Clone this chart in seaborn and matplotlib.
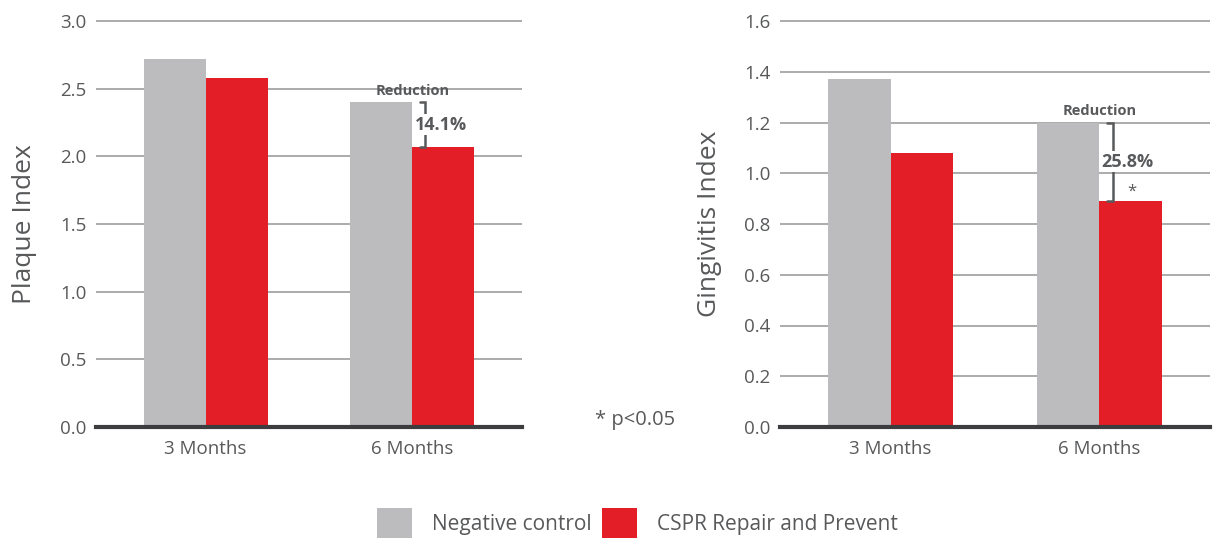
import matplotlib
matplotlib.use("Agg")
import matplotlib.pyplot as plt
from matplotlib.patches import Patch
import seaborn as sns
import pandas as pd

periods = ["3 Months", "6 Months"]
groups = ["Negative control", "CSPR Repair and Prevent"]
plaque_neg = [2.72, 2.40]
plaque_cspr = [2.58, 2.07]
ging_neg = [1.37, 1.20]
ging_cspr = [1.08, 0.89]
reductions = ["14.1%", "25.8%"]
plaque_ticks = [0.0, 0.5, 1.0, 1.5, 2.0, 2.5, 3.0]
ging_ticks = [0.0, 0.2, 0.4, 0.6, 0.8, 1.0, 1.2, 1.4, 1.6]

GRAY = "#bcbcbe"
RED = "#e31e26"
TXT = "#58595b"

sns.set_theme(style="white")
plt.rcParams["font.family"] = ["Open Sans", "DejaVu Sans"]

W, H = 1214, 541
fig = plt.figure(figsize=(W / 100, H / 100), dpi=100)


def make_df(neg, cspr):
    rows = []
    for p, v in zip(periods, neg):
        rows.append({"period": p, "group": groups[0], "value": v})
    for p, v in zip(periods, cspr):
        rows.append({"period": p, "group": groups[1], "value": v})
    return pd.DataFrame(rows)


def draw(rect_px, neg, cspr, ticks, label, red_text, star, label_x):
    x0, x1, ybase = rect_px
    top = ticks[-1]
    ymax = top * 1.01
    h_px = 406 * ymax / top
    ax = fig.add_axes([x0 / W, 1 - ybase / H, (x1 - x0) / W, h_px / H])
    df = make_df(neg, cspr)
    sns.barplot(data=df, x="period", y="value", hue="group", hue_order=groups,
                palette=[GRAY, RED], width=0.6, saturation=1, ax=ax,
                legend=False, zorder=3, linewidth=0, edgecolor="none")
    ax.set_ylim(0, ymax)
    ax.set_xlim(-0.53, 1.53)
    ax.set_yticks(ticks)
    ax.set_yticklabels([f"{t:.1f}" for t in ticks])
    ax.yaxis.grid(True, color="#9d9d9d", lw=1.2, zorder=0)
    ax.set_axisbelow(True)
    for s in ["top", "right", "left"]:
        ax.spines[s].set_visible(False)
    ax.spines["bottom"].set_color("#3d3d3f")
    ax.spines["bottom"].set_linewidth(3)
    ax.spines["bottom"].set_zorder(5)
    ax.tick_params(axis="both", length=0, labelsize=13.5, labelcolor=TXT)
    ax.tick_params(axis="y", pad=7)
    ax.tick_params(axis="x", pad=9)
    ax.set_xlabel("")
    ax.set_ylabel(label, fontsize=19, color=TXT)
    ax.yaxis.set_label_coords(label_x, 0.495)

    g, r = neg[1], cspr[1]
    ax.annotate("Reduction", xy=(1.0, g), xytext=(0, 8), textcoords="offset points",
                ha="center", va="center", fontsize=10.5, fontweight="bold",
                color=TXT, zorder=6)
    bx = 1.063
    tk = 0.025
    ax.plot([bx - tk, bx, bx, bx - tk], [g, g, r, r], color=TXT, lw=1.8,
            zorder=6, solid_joinstyle="miter")
    ax.annotate(red_text, xy=(1.0, (g + r) / 2), xytext=(1.5, 0),
                textcoords="offset points", ha="left", va="center",
                fontsize=13, fontweight="bold", color=TXT, zorder=7,
                bbox=dict(facecolor="white", edgecolor="none", pad=1.0))
    if star:
        ax.annotate("*", xy=(1.155, r), xytext=(0, 7), textcoords="offset points",
                    ha="center", va="center", fontsize=12, color=TXT, zorder=7)
    return ax


ax1 = draw((96, 522, 427), plaque_neg, plaque_cspr, plaque_ticks,
           "Plaque Index", reductions[0], False, -0.139)
ax2 = draw((780, 1210, 427), ging_neg, ging_cspr, ging_ticks,
           "Gingivitis Index", reductions[1], True, -0.135)

fig.text(595 / W, 1 - 420 / H, "* p<0.05", fontsize=14.5, color=TXT,
         ha="left", va="center")

handles = [Patch(facecolor=GRAY, edgecolor="none"),
           Patch(facecolor=RED, edgecolor="none")]
fig.legend(handles, groups, loc="center", bbox_to_anchor=(637 / W, 1 - 523 / H),
           ncol=2, frameon=False, fontsize=15, labelcolor=TXT,
           handlelength=1.68, handleheight=1.87, handletextpad=0.96,
           columnspacing=0.5, borderaxespad=0, borderpad=0)

fig.savefig("out.png", dpi=100)
